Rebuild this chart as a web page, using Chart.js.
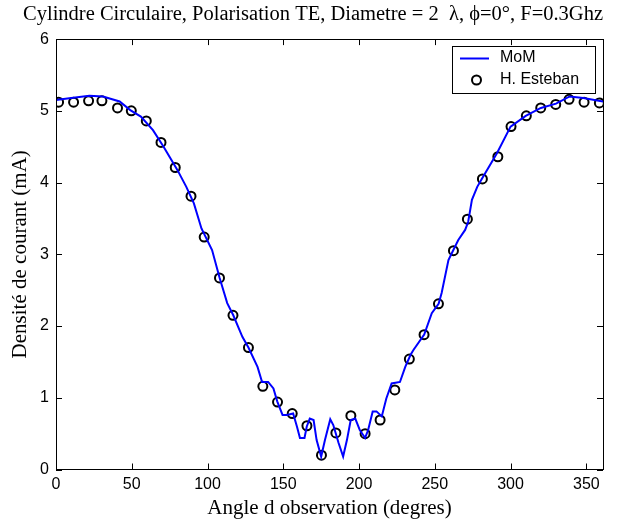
<!DOCTYPE html>
<html>
<head>
<meta charset="utf-8">
<title>Cylindre Circulaire - Polarisation TE</title>
<script src="https://cdn.jsdelivr.net/npm/chart.js@4.4.1/dist/chart.umd.min.js"></script>
<style>
    html, body { margin: 0; padding: 0; background: #ffffff; }
    #wrap { width: 634px; height: 524px; }
</style>
</head>
<body>
<div id="wrap"><canvas id="courantChart" width="634" height="524"></canvas></div>
<script>
// MoM solution (angle in degrees, current density in mA)
const momAngles = [0, 10, 22, 31, 42, 49, 56, 64, 71, 80, 86, 91, 96, 103, 108, 113, 117, 123, 127, 133,
    136, 140, 143.5, 146, 149.5, 152.5, 156.5, 159, 161, 164, 165.5, 167.5, 170, 172, 175, 177.5,
    181, 183, 186.5, 189.5, 192, 194.5, 197.5, 200.5, 204, 206, 209, 211.5, 215, 218, 221.5, 227,
    230.5, 234, 236, 243, 248, 252.5, 254.5, 259, 262, 265.5, 270, 272, 274.5, 278, 281, 291, 300,
    310, 320, 330, 339, 348, 361];
const momValues = [5.15, 5.18, 5.21, 5.20, 5.13, 5.01, 4.92, 4.73, 4.50, 4.18, 3.94, 3.71, 3.36, 3.06, 2.67, 2.32, 2.15, 1.85, 1.70, 1.43,
    1.22, 1.22, 1.13, 0.95, 0.76, 0.76, 0.78, 0.60, 0.44, 0.44, 0.60, 0.71, 0.69, 0.41, 0.18, 0.41,
    0.70, 0.62, 0.37, 0.18, 0.41, 0.69, 0.71, 0.55, 0.44, 0.55, 0.81, 0.81, 0.74, 0.99, 1.20, 1.22,
    1.43, 1.60, 1.67, 1.88, 2.18, 2.31, 2.46, 2.92, 3.05, 3.20, 3.34, 3.45, 3.76, 3.94, 4.05, 4.41, 4.78,
    4.93, 5.04, 5.10, 5.20, 5.18, 5.13];

// H. Esteban reference points
const estebanAngles = [1.7, 11.6, 21.5, 30.3, 40.6, 49.7, 59.6, 69.3, 78.7, 89.1, 97.8, 107.9, 116.8, 127.0,
    136.5, 146.2, 155.9, 165.6, 175.2, 184.7, 194.6, 204.0, 213.9, 223.6, 233.2, 242.9, 252.4, 262.3,
    271.5, 281.4, 291.6, 300.3, 310.4, 319.9, 329.8, 338.6, 348.5, 358.6];
const estebanValues = [5.12, 5.12, 5.14, 5.14, 5.04, 5.00, 4.86, 4.56, 4.21, 3.81, 3.24, 2.67, 2.15, 1.70,
    1.16, 0.94, 0.78, 0.61, 0.20, 0.51, 0.75, 0.50, 0.69, 1.11, 1.54, 1.88, 2.31, 3.05,
    3.49, 4.05, 4.36, 4.78, 4.93, 5.04, 5.09, 5.16, 5.12, 5.11];

// Axis ticks
const xTickValues = [0, 50, 100, 150, 200, 250, 300, 350];
const yTickValues = [0, 1, 2, 3, 4, 5, 6];

const serifFont = "'Liberation Serif', 'Times New Roman', serif";
const sansFont = "'Liberation Sans', Arial, sans-serif";

function toPoints(xs, ys) {
    return xs.map(function(x, i) { return { x: x, y: ys[i] }; });
}

// Matlab style box: frame, inward ticks on four sides, legend in the corner
const matlabBox = {
    id: 'matlabBox',
    afterDatasetsDraw: function(chart) {
        const ctx = chart.ctx;
        const area = chart.chartArea;
        const xs = chart.scales.x;
        const ys = chart.scales.y;
        const tick = 6;

        ctx.save();
        ctx.strokeStyle = '#000000';
        ctx.lineWidth = 1;
        ctx.beginPath();
        xs.ticks.forEach(function(t) {
            const px = Math.round(xs.getPixelForValue(t.value)) + 0.5;
            ctx.moveTo(px, area.bottom); ctx.lineTo(px, area.bottom - tick);
            ctx.moveTo(px, area.top); ctx.lineTo(px, area.top + tick);
        });
        ys.ticks.forEach(function(t) {
            const py = Math.round(ys.getPixelForValue(t.value)) + 0.5;
            ctx.moveTo(area.left, py); ctx.lineTo(area.left + tick, py);
            ctx.moveTo(area.right, py); ctx.lineTo(area.right - tick, py);
        });
        ctx.stroke();
        ctx.strokeRect(Math.round(area.left) + 0.5, Math.round(area.top) + 0.5,
            Math.round(area.right - area.left), Math.round(area.bottom - area.top));

        // legend
        const lx = 452, ly = 46, lw = 143, lh = 47;
        ctx.fillStyle = '#ffffff';
        ctx.fillRect(lx, ly, lw, lh);
        ctx.strokeRect(lx + 0.5, ly + 0.5, lw, lh);

        const ds = chart.data.datasets;
        ctx.font = '16px ' + sansFont;
        ctx.fillStyle = '#000000';
        ctx.textBaseline = 'middle';
        ctx.textAlign = 'left';

        ctx.strokeStyle = ds[0].borderColor;
        ctx.lineWidth = 2;
        ctx.beginPath();
        ctx.moveTo(460, 58.5); ctx.lineTo(489, 58.5);
        ctx.stroke();
        ctx.fillText(ds[0].label, 500, 58);

        ctx.strokeStyle = ds[1].borderColor;
        ctx.lineWidth = 2;
        ctx.beginPath();
        ctx.arc(476.5, 80, 4.5, 0, Math.PI * 2);
        ctx.stroke();
        ctx.fillText(ds[1].label, 500, 80);
        ctx.restore();
    }
};

const ctx = document.getElementById('courantChart').getContext('2d');
const courantChart = new Chart(ctx, {
    type: 'scatter',
    data: {
        datasets: [{
            label: 'MoM',
            data: toPoints(momAngles, momValues),
            showLine: true,
            borderColor: '#0000ff',
            backgroundColor: '#0000ff',
            borderWidth: 2,
            pointRadius: 0,
            tension: 0
        }, {
            label: 'H. Esteban',
            data: toPoints(estebanAngles, estebanValues),
            showLine: false,
            borderColor: '#000000',
            backgroundColor: 'rgba(0,0,0,0)',
            borderWidth: 2,
            pointStyle: 'circle',
            pointRadius: 4.5
        }]
    },
    options: {
        responsive: false,
        animation: false,
        layout: {
            padding: { left: 0, right: 31, top: 0, bottom: 0 }
        },
        plugins: {
            legend: { display: false },
            tooltip: { enabled: false },
            title: {
                display: true,
                align: 'end',
                text: 'Cylindre Circulaire, Polarisation TE, Diametre = 2  \u03bb, \u03d5=0\u00b0, F=0.3Ghz',
                color: '#000000',
                font: { family: serifFont, size: 20.5, weight: 'normal', lineHeight: 1.2 },
                padding: { top: 2.5, bottom: 12 }
            }
        },
        scales: {
            x: {
                type: 'linear',
                min: 0,
                max: 361,
                afterBuildTicks: function(scale) {
                    scale.ticks = xTickValues.map(function(v) { return { value: v }; });
                },
                afterFit: function(scale) { scale.height = 54.5; },
                grid: { drawOnChartArea: false, drawTicks: false },
                border: { display: false },
                ticks: {
                    color: '#000000',
                    padding: 5,
                    maxRotation: 0,
                    font: { family: sansFont, size: 16 }
                },
                title: {
                    display: true,
                    text: 'Angle d observation (degres)',
                    color: '#000000',
                    font: { family: serifFont, size: 21, weight: 'normal' },
                    padding: { top: 0, bottom: 3 }
                }
            },
            y: {
                type: 'linear',
                min: 0,
                max: 6,
                afterBuildTicks: function(scale) {
                    scale.ticks = yTickValues.map(function(v) { return { value: v }; });
                },
                afterFit: function(scale) { scale.width = 56; },
                grid: { drawOnChartArea: false, drawTicks: false },
                border: { display: false },
                ticks: {
                    color: '#000000',
                    padding: 7,
                    font: { family: sansFont, size: 16 }
                },
                title: {
                    display: true,
                    text: 'Densité de courant (mA)',
                    color: '#000000',
                    font: { family: serifFont, size: 21, weight: 'normal' },
                    padding: { top: 8, bottom: 0 }
                }
            }
        }
    },
    plugins: [matlabBox]
});
</script>
</body>
</html>
